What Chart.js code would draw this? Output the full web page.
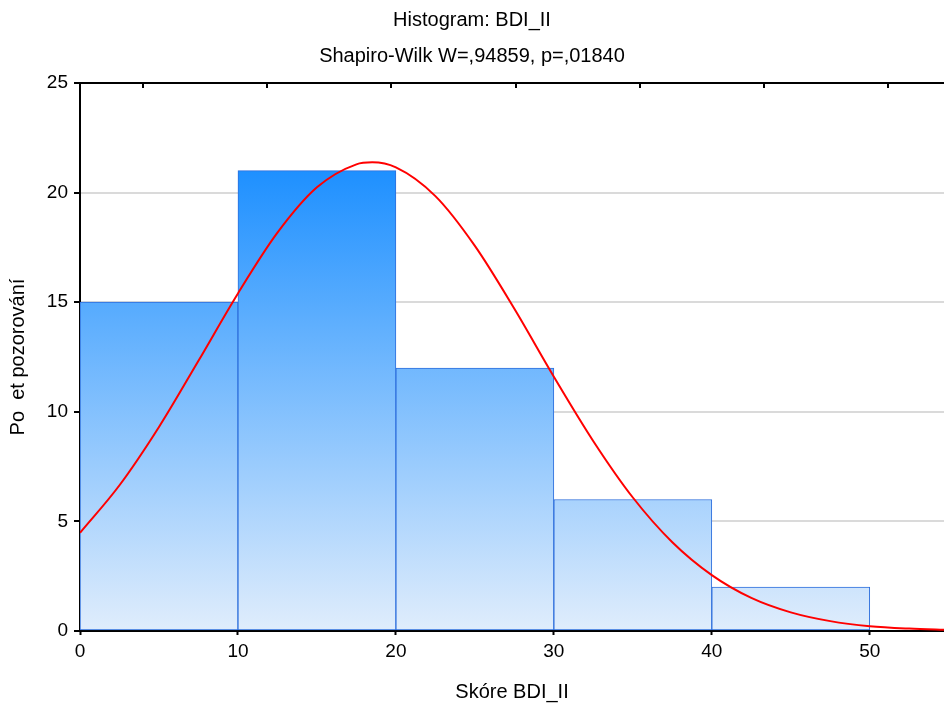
<!DOCTYPE html>
<html lang="cs">
<head>
<meta charset="UTF-8">
<title>Histogram: BDI_II</title>
<style>
  html, body { margin: 0; padding: 0; background: #fff; }
  #wrap { width: 944px; height: 707px; }
</style>
<script src="https://cdn.jsdelivr.net/npm/chart.js"></script>
</head>
<body>
<div id="wrap"><canvas id="chart"></canvas></div>
<script>
// histogram bins (centres) and counts
const binCentres = [5, 15, 25, 35, 45];
const binCounts = [15, 21, 12, 6, 2];

// fitted normal curve
const curveX = [0, 2.5, 5, 7.5, 10, 12.5, 15, 17.5, 18.5, 20, 22.5, 25, 27.5, 30, 32.5, 35, 37.5, 40, 42.5, 45, 47.5, 50, 52.5, 55];
const curveY = [4.48, 6.65, 9.31, 12.33, 15.4, 18.17, 20.24, 21.29, 21.38, 21.15, 19.84, 17.57, 14.7, 11.6, 8.66, 6.09, 4.05, 2.55, 1.51, 0.85, 0.45, 0.22, 0.11, 0.05];

const xTicks = [0, 10, 20, 30, 40, 50];
const yTicks = [0, 5, 10, 15, 20, 25];
const topTicks = [4, 11.85, 19.7, 27.6, 35.45, 43.3, 51.15];

const tickFont = { family: 'Liberation Sans, Arial, sans-serif', size: 19 };
const titleFont = { family: 'Liberation Sans, Arial, sans-serif', size: 20, weight: 'normal', lineHeight: '20px' };

// small ticks pointing down from the top frame line
const topTickPlugin = {
  id: 'topTicks',
  afterDraw(chart) {
    const c = chart.ctx, sx = chart.scales.x, top = chart.chartArea.top;
    c.save();
    c.strokeStyle = '#000';
    c.lineWidth = 2;
    topTicks.forEach(v => {
      const px = Math.round(sx.getPixelForValue(v));
      c.beginPath();
      c.moveTo(px, top);
      c.lineTo(px, top + 5);
      c.stroke();
    });
    // top frame line
    c.beginPath();
    c.moveTo(chart.chartArea.left, top);
    c.lineTo(chart.chartArea.right, top);
    c.stroke();
    c.restore();
  }
};

const ctx = document.getElementById('chart');
new Chart(ctx, {
  data: {
    datasets: [
      {
        type: 'line',
        data: curveX.map((x, i) => ({ x: x, y: curveY[i] })),
        borderColor: 'rgb(255,0,0)',
        borderWidth: 2,
        pointRadius: 0,
        cubicInterpolationMode: 'monotone',
        fill: false,
        order: 0
      },
      {
        type: 'bar',
        data: binCentres.map((x, i) => ({ x: x, y: binCounts[i] })),
        barPercentage: 1,
        categoryPercentage: 1,
        borderColor: 'rgb(45,110,220)',
        borderWidth: 1,
        borderSkipped: false,
        backgroundColor: function (c) {
          const chart = c.chart;
          if (!chart.chartArea) return 'rgb(90,170,250)';
          const ys = chart.scales.y;
          const g = chart.ctx.createLinearGradient(0, ys.getPixelForValue(Math.max(...binCounts)), 0, ys.getPixelForValue(0));
          g.addColorStop(0, 'rgb(30,144,255)');
          g.addColorStop(1, 'rgb(224,237,252)');
          return g;
        },
        order: 1
      }
    ]
  },
  options: {
    responsive: true,
    maintainAspectRatio: false,
    animation: false,
    layout: { padding: { top: 0, right: 0, bottom: 0, left: 0 } },
    plugins: {
      legend: { display: false },
      tooltip: { enabled: false },
      title: {
        display: true,
        text: 'Histogram: BDI_II',
        color: '#000',
        font: titleFont,
        padding: { top: 10, bottom: 16 }
      },
      subtitle: {
        display: true,
        text: 'Shapiro-Wilk W=,94859, p=,01840',
        color: '#000',
        font: titleFont,
        padding: { top: 0, bottom: 17 }
      }
    },
    scales: {
      x: {
        type: 'linear',
        min: 0,
        max: 54.7,
        offset: false,
        afterBuildTicks: s => { s.ticks = xTicks.map(v => ({ value: v })); },
        afterFit: s => { s.height = 76; },
        grid: { display: true, offset: false, drawOnChartArea: false, tickLength: 4, tickColor: '#000', tickWidth: 2 },
        border: { display: true, color: '#000', width: 2 },
        ticks: { color: '#000', font: tickFont, padding: 5, maxRotation: 0 },
        title: {
          display: true,
          text: 'Skóre BDI_II',
          color: '#000',
          font: titleFont,
          padding: { top: 5, bottom: 5 }
        }
      },
      y: {
        min: 0,
        max: 25,
        afterBuildTicks: s => { s.ticks = yTicks.map(v => ({ value: v })); },
        afterFit: s => { s.width = 80; },
        grid: {
          color: c => (c.tick && (c.tick.value === 0 || c.tick.value === 25)) ? 'rgba(0,0,0,0)' : 'rgb(218,218,218)',
          lineWidth: 2,
          tickLength: 6,
          tickColor: '#000',
          tickWidth: 2
        },
        border: { display: true, color: '#000', width: 2 },
        ticks: { color: '#000', font: tickFont, padding: 6 },
        title: {
          display: true,
          text: 'Po  et pozorování',
          color: '#000',
          font: titleFont,
          padding: { top: 8, bottom: 4 }
        }
      }
    }
  },
  plugins: [topTickPlugin]
});
</script>
</body>
</html>
